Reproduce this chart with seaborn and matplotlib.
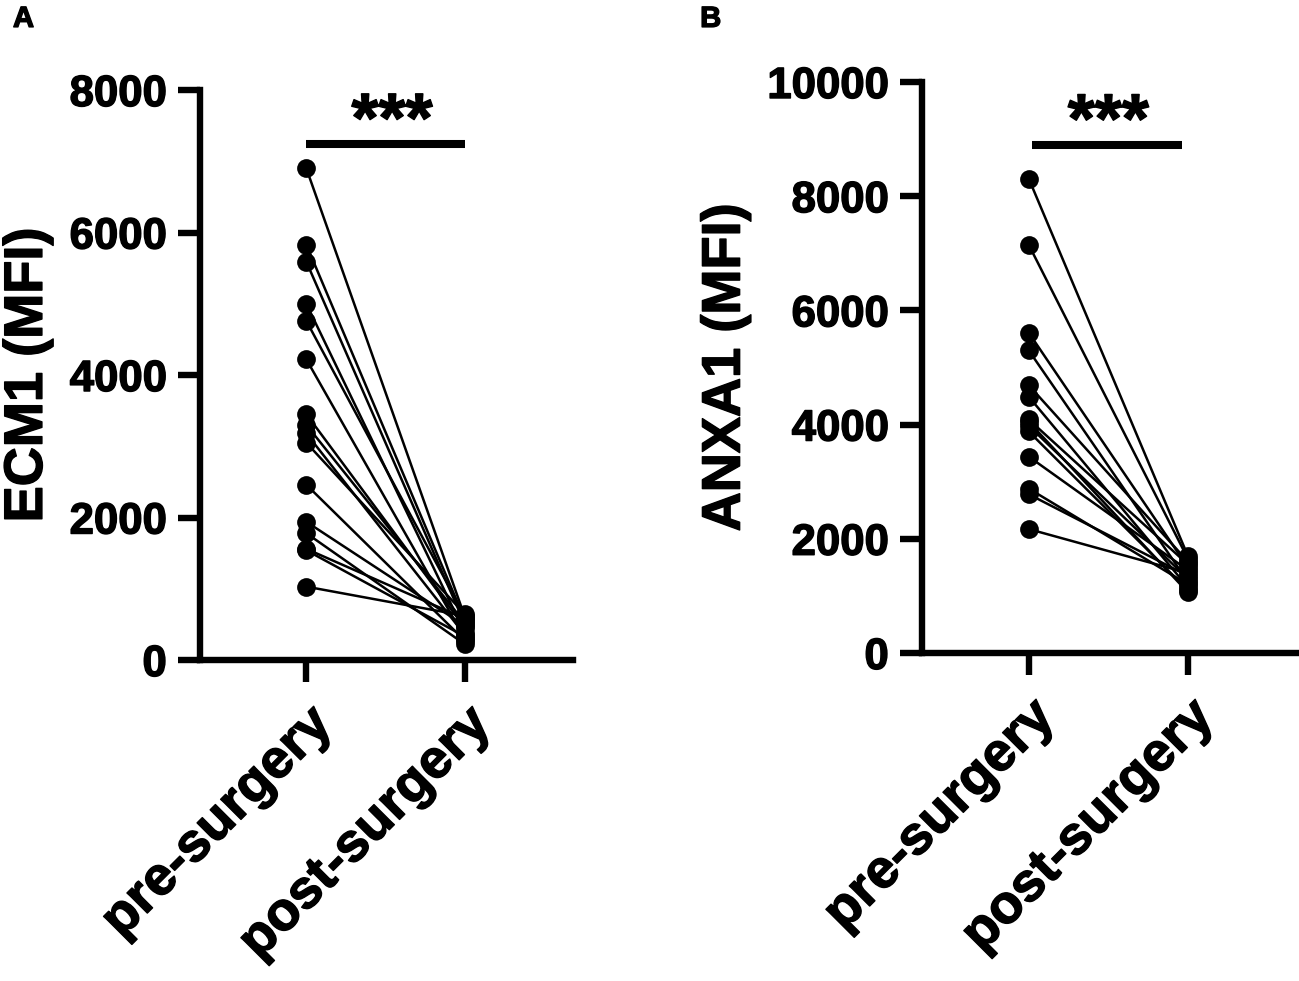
import numpy as np
import pandas as pd
import seaborn as sns
import matplotlib.pyplot as plt
import matplotlib.patheffects as pe

groups = ['pre-surgery', 'post-surgery']

# panel A, ECM1 (MFI), one value per patient
ecm1_pre = [6900, 5830, 5590, 5000, 4760, 4220, 3450, 3300, 3180, 3050, 2460, 1940, 1780, 1560, 1540, 1030]
ecm1_post = [600, 560, 500, 380, 610, 300, 450, 520, 350, 640, 270, 480, 220, 580, 330, 620]

# panel B, ANXA1 (MFI)
anxa1_pre = [8310, 7150, 5610, 5300, 4690, 4490, 4090, 3980, 3880, 3440, 2880, 2780, 2170, 4050]
anxa1_post = [1700, 1650, 1500, 1250, 1600, 1150, 1550, 1300, 1100, 1450, 1200, 1350, 1400, 1060]


def long_df(pre, post):
    rows = []
    for i, (a, b) in enumerate(zip(pre, post)):
        rows.append({'patient': i, 'x': 0, 'value': a})
        rows.append({'patient': i, 'x': 1, 'value': b})
    return pd.DataFrame(rows)


sns.set_style('ticks')
plt.rcParams['font.family'] = ['Liberation Sans', 'DejaVu Sans']
plt.rcParams['font.weight'] = 'bold'
for k in ['text.color', 'axes.labelcolor', 'xtick.color', 'ytick.color', 'axes.edgecolor']:
    plt.rcParams[k] = 'black'

heavy = [pe.withStroke(linewidth=1.0, foreground='black')]

fig = plt.figure(figsize=(12.99, 9.81), dpi=100)
ax_a = fig.add_axes([0.154, 0.3272, 0.287, 0.581])
ax_b = fig.add_axes([0.7098, 0.3344, 0.288, 0.582])

panels = [
    (ax_a, ecm1_pre, ecm1_post, 'ECM1 (MFI)', 8000, 2000, (0, 1), 7240, 7080, 0.54),
    (ax_b, anxa1_pre, anxa1_post, 'ANXA1 (MFI)', 10000, 2000, (0.02, 0.96), 8900, 8700, 0.5),
]

for ax, pre, post, ylab, ymax, step, bar_x, bar_y, star_y, star_x in panels:
    df = long_df(pre, post)
    sns.lineplot(data=df, x='x', y='value', units='patient', estimator=None,
                 color='black', lw=1.8, marker='o', markersize=13.5,
                 markeredgewidth=0, ax=ax, legend=False)
    ax.set_xlim(-0.67, 1.68)
    ax.set_ylim(0, ymax)
    ax.set_yticks(np.arange(0, ymax + 1, step))
    ax.set_xticks([0, 1])
    ax.set_xticklabels(groups, rotation=45, ha='right', va='top',
                       rotation_mode='anchor', fontsize=39, fontweight='bold')
    for lab in ax.get_yticklabels():
        lab.set_fontsize(31.5)
        lab.set_fontweight('bold')
    for lab in ax.get_xticklabels() + ax.get_yticklabels():
        lab.set_path_effects(heavy)
    ax.set_xlabel('')
    ax.set_ylabel(ylab, fontsize=39, fontweight='bold', labelpad=12,
                  path_effects=heavy)
    ax.tick_params(length=16, width=4.6, pad=8, color='black')
    ax.tick_params(axis='x', pad=12)
    sns.despine(ax=ax)
    for s in ['left', 'bottom']:
        ax.spines[s].set_linewidth(4.6)
    # significance bar
    ax.plot(bar_x, [bar_y, bar_y], color='black', lw=5.8, solid_capstyle='butt')
    ax.text(star_x, star_y, '***', ha='center', va='bottom', fontsize=50,
            fontweight='bold', path_effects=heavy)

fig.text(0.010, 0.995, 'A', fontsize=21, fontweight='bold', va='top', path_effects=heavy)
fig.text(0.539, 0.995, 'B', fontsize=21, fontweight='bold', va='top', path_effects=heavy)

fig.savefig('out.png', dpi=100)
